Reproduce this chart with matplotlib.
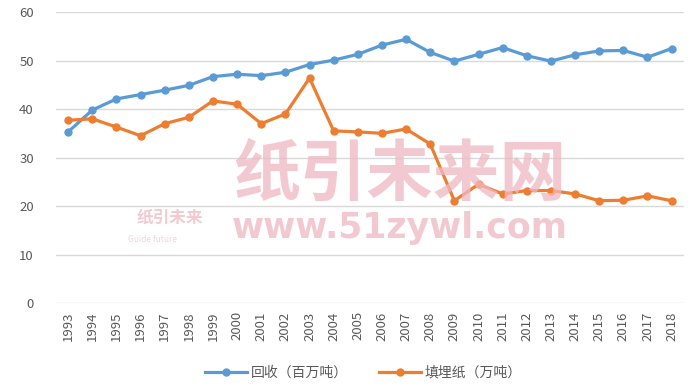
import numpy as np
import matplotlib.pyplot as plt

plt.rcParams['font.family'] = ['Noto Sans CJK SC', 'DejaVu Sans']

years = [str(y) for y in range(1993, 2019)]
huishou = [35.3, 39.8, 42.1, 43.0, 43.9, 44.9, 46.7, 47.2, 46.9, 47.6, 49.2, 50.1, 51.3,
           53.2, 54.4, 51.7, 49.9, 51.3, 52.7, 51.0, 49.9, 51.2, 52.0, 52.1, 50.7, 52.5]
tianmai = [37.7, 38.0, 36.3, 34.5, 37.0, 38.3, 41.7, 41.0, 37.0, 39.0, 46.4, 35.5, 35.3,
           35.0, 35.9, 32.8, 21.1, 24.5, 22.5, 23.2, 23.2, 22.5, 21.1, 21.2, 22.1, 21.1]

blue = '#5B9BD5'
orange = '#ED7D31'
grey = '#595959'
pink = '#F0B8C2'

fig = plt.figure(figsize=(6.92, 3.92), dpi=100)
ax = fig.add_axes([0.081, 0.227, 0.907, 0.742])

x = np.arange(len(years))

# watermark
fig.text(0.578, 0.553, '纸引未来网', fontsize=48, fontweight='bold', color=pink,
         alpha=0.75, ha='center', va='center', zorder=0)
fig.text(0.578, 0.418, 'www.51zywl.com', fontsize=25, fontweight='bold', color=pink,
         alpha=0.75, ha='center', va='center', family=['DejaVu Sans'], zorder=0)
fig.text(0.245, 0.444, '纸引未来', fontsize=12, fontweight='bold', color=pink,
         alpha=0.75, ha='center', va='center', zorder=0)
fig.text(0.22, 0.388, 'Guide future', fontsize=6, color='#F0C8CF',
         alpha=0.8, ha='center', va='center', zorder=0)

ax.plot(x, huishou, color=blue, lw=2.3, marker='o', ms=5, label='回收（百万吨）', zorder=3)
ax.plot(x, tianmai, color=orange, lw=2.3, marker='o', ms=5, label='填埋纸（万吨）', zorder=3)

ax.set_xlim(-0.5, len(years) - 0.5)
ax.set_ylim(0, 60)
ax.set_yticks(range(0, 61, 10))
ax.set_xticks(x)
ax.set_xticklabels(years, rotation=90)
ax.tick_params(axis='both', length=0, colors=grey, labelsize=9.5)
ax.tick_params(axis='y', pad=16)
ax.tick_params(axis='x', pad=6)
ax.grid(axis='y', color='#D9D9D9', lw=1)
ax.set_axisbelow(True)
for s in ax.spines.values():
    s.set_visible(False)
ax.patch.set_alpha(0)

leg = ax.legend(loc='center', bbox_to_anchor=(0.49, -0.24), ncol=2, frameon=False,
                fontsize=10, handlelength=3, columnspacing=2.2, handletextpad=0.3)
for t in leg.get_texts():
    t.set_color(grey)

fig.savefig('out.png', dpi=100)
